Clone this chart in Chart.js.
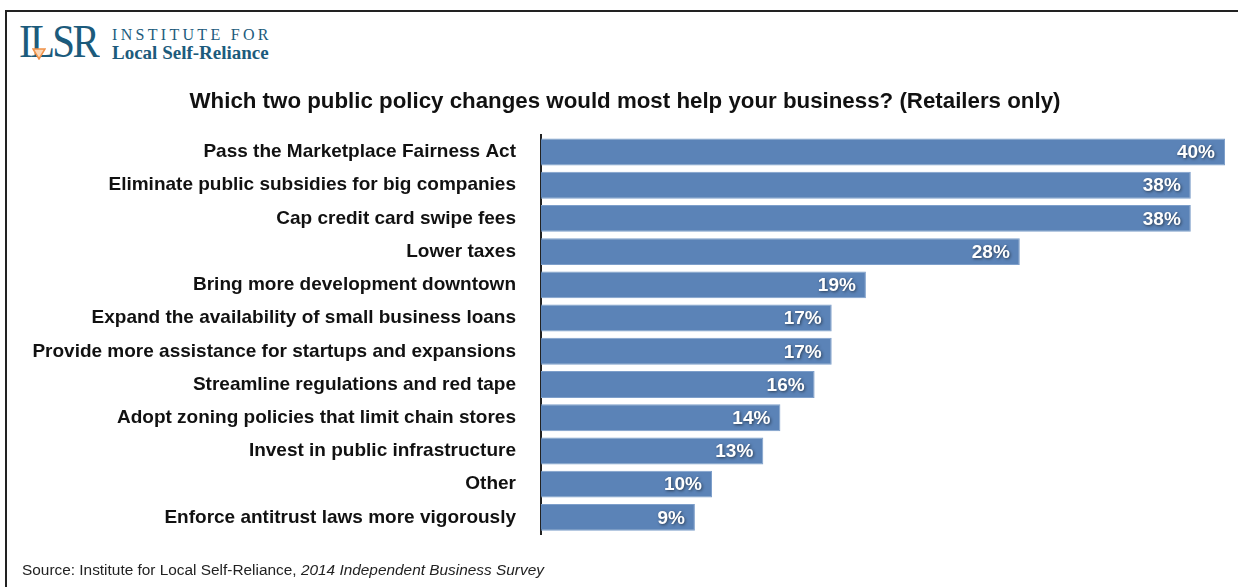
<!DOCTYPE html>
<html lang="en">
<head>
    <meta charset="UTF-8">
    <title>Which two public policy changes would most help your business?</title>
    <script src="https://cdn.jsdelivr.net/npm/chart.js"></script>
    <style>
        html, body { margin: 0; padding: 0; background: #fff; }
        #page { position: relative; width: 1238px; height: 587px; overflow: hidden; }
        #frame { position: absolute; left: 5px; top: 10px; right: -10px; bottom: -10px;
                 border-top: 2px solid #222; border-left: 2px solid #222; }
        #chartBox { position: absolute; left: 0; top: 0; width: 1238px; height: 587px; }
        .logo { position: absolute; color: #1c5b7c; font-family: "Liberation Serif", "DejaVu Serif", serif; }
        #ilsr { left: 19px; top: 17px; font-size: 46px; letter-spacing: -3px; line-height: 50px; transform: scaleX(0.89); transform-origin: left; }
        #inst { left: 112px; top: 25px; font-size: 16px; letter-spacing: 3.3px; line-height: 20px; }
        #local { left: 112px; top: 42px; font-size: 19px; font-weight: bold; line-height: 22px; }
        #tri { position: absolute; left: 32px; top: 48px; }
        #source { position: absolute; left: 22px; top: 561px; font: 15.4px "Liberation Sans", Arial, sans-serif; color: #222; }
    </style>
</head>
<body>
<div id="page">
    <div id="frame"></div>
    <div class="logo" id="ilsr">ILSR</div>
    <svg id="tri" width="14" height="12"><polygon points="1,1 13,1 7,11" fill="#fbd7b6" stroke="#f0924a" stroke-width="1.5"/></svg>
    <div class="logo" id="inst">INSTITUTE FOR</div>
    <div class="logo" id="local">Local Self-Reliance</div>
    <div id="chartBox"><canvas id="myChart" width="1238" height="587"></canvas></div>
    <div id="source">Source: Institute for Local Self-Reliance, <i>2014 Independent Business Survey</i></div>
</div>
<script>
    const categories = [
        'Pass the Marketplace Fairness Act',
        'Eliminate public subsidies for big companies',
        'Cap credit card swipe fees',
        'Lower taxes',
        'Bring more development downtown',
        'Expand the availability of small business loans',
        'Provide more assistance for startups and expansions',
        'Streamline regulations and red tape',
        'Adopt zoning policies that limit chain stores',
        'Invest in public infrastructure',
        'Other',
        'Enforce antitrust laws more vigorously'
    ];
    const shares = [40, 38, 38, 28, 19, 17, 17, 16, 14, 13, 10, 9];

    const fontFamily = '"Liberation Sans", Arial, Helvetica, sans-serif';

    // white percentage labels inside the end of each bar
    const barValueLabels = {
        id: 'barValueLabels',
        afterDatasetsDraw(chart) {
            const ctx = chart.ctx;
            const meta = chart.getDatasetMeta(0);
            ctx.save();
            ctx.font = 'bold 19px ' + fontFamily;
            ctx.textAlign = 'right';
            ctx.textBaseline = 'middle';
            ctx.fillStyle = '#fff';
            ctx.shadowColor = 'rgba(0,0,0,0.55)';
            ctx.shadowBlur = 3;
            ctx.shadowOffsetX = 1;
            ctx.shadowOffsetY = 1;
            meta.data.forEach((bar, i) => {
                ctx.fillText(shares[i] + '%', bar.x - 10, bar.y + 1);
            });
            ctx.restore();
        }
    };

    const ctx = document.getElementById('myChart').getContext('2d');
    const myChart = new Chart(ctx, {
        type: 'bar',
        data: {
            labels: categories,
            datasets: [{
                data: shares,
                backgroundColor: '#5b83b7',
                borderColor: '#7e9fca',
                borderWidth: 1,
                borderSkipped: 'left',
                barPercentage: 0.81,
                categoryPercentage: 1.0
            }]
        },
        options: {
            indexAxis: 'y',
            responsive: false,
            animation: false,
            layout: { padding: { left: 25, right: 13, top: 0, bottom: 53 } },
            plugins: {
                legend: { display: false },
                tooltip: { enabled: false },
                title: {
                    display: true,
                    text: 'Which two public policy changes would most help your business? (Retailers only)',
                    color: '#111',
                    font: { family: fontFamily, size: 22.3, weight: 'bold', lineHeight: 1.2 },
                    padding: { top: 88.3, bottom: 20.3 }
                }
            },
            scales: {
                x: { display: false, min: 0, max: 40 },
                y: {
                    afterFit(scale) { scale.width = 516; },
                    grid: { display: false, drawTicks: false },
                    border: { display: true, color: '#222', width: 2 },
                    ticks: {
                        padding: 25,
                        color: '#111',
                        font: { family: fontFamily, size: 19, weight: 'bold' }
                    }
                }
            }
        },
        plugins: [barValueLabels]
    });
</script>
</body>
</html>
